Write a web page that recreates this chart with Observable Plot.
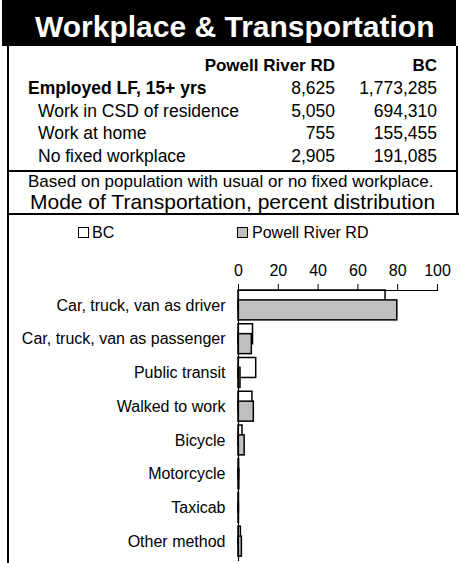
<!DOCTYPE html>
<html>
<head>
<meta charset="utf-8">
<script src="https://cdn.jsdelivr.net/npm/d3@7"></script>
<script src="https://cdn.jsdelivr.net/npm/@observablehq/plot@0.6"></script>
<style>
  html, body { margin: 0; padding: 0; background: #fff; }
  body { width: 459px; height: 563px; overflow: hidden; position: relative;
         font-family: "Liberation Sans", Arial, sans-serif; color: #000; }
  .abs { position: absolute; white-space: nowrap; line-height: 0.85; }
  .b { font-weight: bold; }
  .line { position: absolute; background: #000; }
  #chart { position: absolute; left: 0; top: 240px; }
</style>
</head>
<body>
<script>
// ---- data ----
const titleText = "Workplace & Transportation";
const regionName = "Powell River RD";
const provName = "BC";
const tableLabels = ["Employed LF, 15+ yrs", "Work in CSD of residence", "Work at home", "No fixed workplace"];
const regionCounts = ["8,625", "5,050", "755", "2,905"];
const provCounts = ["1,773,285", "694,310", "155,455", "191,085"];
const noteText = "Based on population with usual or no fixed workplace.";
const chartTitle = "Mode of Transportation, percent distribution";
const categories = ["Car, truck, van as driver", "Car, truck, van as passenger", "Public transit",
  "Walked to work", "Bicycle", "Motorcycle", "Taxicab", "Other method"];
const bcValues = [73.9, 7.3, 8.9, 7.0, 2.0, 0.3, 0.2, 1.2];
const regionValues = [79.8, 6.7, 1.0, 7.7, 3.1, 0.4, 0.2, 1.7];
const xTicks = [0, 20, 40, 60, 80, 100];

// ---- helpers ----
function text(str, opts) {
  const d = document.createElement("div");
  d.className = "abs" + (opts.bold ? " b" : "");
  d.textContent = str;
  const fs = opts.fs;
  d.style.fontSize = fs + "px";
  d.style.top = (opts.baseline - 0.7715 * fs) + "px";
  if (opts.right != null) { d.style.right = (459 - opts.right) + "px"; }
  else d.style.left = opts.left + "px";
  if (opts.color) d.style.color = opts.color;
  document.body.appendChild(d);
  return d;
}
function line(x, y, w, h) {
  const d = document.createElement("div");
  d.className = "line";
  Object.assign(d.style, {left: x + "px", top: y + "px", width: w + "px", height: h + "px"});
  document.body.appendChild(d);
}

// title bar
line(2, 0, 454, 46);
text(titleText, {fs: 30, bold: true, baseline: 36.7, left: 35, color: "#fff"});

// table
text(regionName, {fs: 17, bold: true, baseline: 72.5, right: 335});
text(provName, {fs: 17, bold: true, baseline: 72.5, right: 437});
const baselines = [95, 118, 140, 163];
tableLabels.forEach((lab, i) => {
  text(lab, {fs: 17.5, bold: i === 0, baseline: baselines[i], left: i === 0 ? 28 : 38});
  text(regionCounts[i], {fs: 17.5, baseline: baselines[i], right: 335});
  text(provCounts[i], {fs: 17.5, baseline: baselines[i], right: 437});
});

// borders
line(7, 46, 2, 517);
line(456, 46, 2, 168);
line(7, 170, 451, 2);
line(7, 213, 452, 2);

text(noteText, {fs: 17, baseline: 188.5, left: 28});
text(chartTitle, {fs: 21, baseline: 209.5, left: 30});

// legend
function swatch(x, fill) {
  const d = document.createElement("div");
  Object.assign(d.style, {position: "absolute", left: x + "px", top: "227px", width: "9px", height: "9px",
    border: "1.5px solid #000", background: fill});
  document.body.appendChild(d);
}
swatch(78, "#fff");
text(provName, {fs: 16, baseline: 238.5, left: 92});
swatch(237, "#c0c0c0");
text(regionName, {fs: 16, baseline: 238.5, left: 252});

// ---- chart ----
const bcData = categories.map((c, i) => ({cat: c, v: bcValues[i]}));
const regionData = categories.map((c, i) => ({cat: c, v: regionValues[i]}));

const chart = Plot.plot({
  width: 459,
  height: 323,
  marginLeft: 238,
  marginRight: 22,
  marginTop: 50,
  marginBottom: 3,
  style: {fontFamily: "'Liberation Sans', Arial, sans-serif", fontSize: "16px", background: "transparent", overflow: "visible"},
  x: {domain: [0, 100]},
  y: {domain: categories, paddingInner: 0.115, paddingOuter: 0.0575, align: 0, round: false},
  marks: [
    Plot.barX(bcData, {x: "v", y: "cat", fill: "#fff", stroke: "#000", strokeWidth: 1.5, insetBottom: 9.9}),
    Plot.barX(regionData, {x: "v", y: "cat", fill: "#c0c0c0", stroke: "#000", strokeWidth: 1.5, insetTop: 9.9}),
    Plot.frame({anchor: "top", stroke: "#000", strokeWidth: 1.2}),
    Plot.frame({anchor: "left", stroke: "#000", strokeWidth: 1.2}),
    Plot.axisX({anchor: "top", ticks: xTicks, tickSize: 7, tickPadding: 8, label: null, fontSize: 16, stroke: "#000"}),
    Plot.axisY({anchor: "left", tickSize: 0, tickPadding: 13, label: null, fontSize: 16})
  ]
});
chart.id = "chart";
document.body.appendChild(chart);
</script>
</body>
</html>
